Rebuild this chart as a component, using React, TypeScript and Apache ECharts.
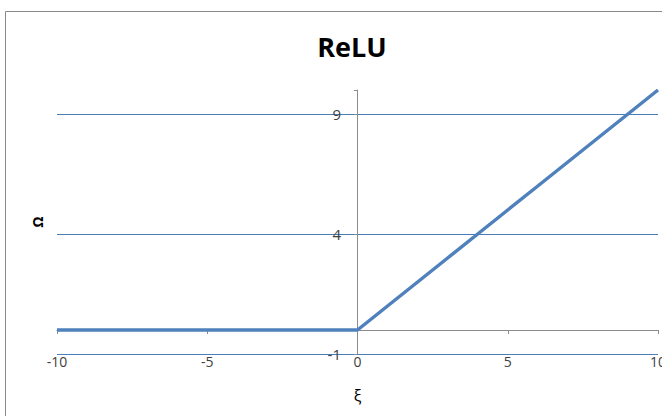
import React, { useEffect, useRef } from "react";
import * as echarts from "echarts";

const xValues = [-10, -9, -8, -7, -6, -5, -4, -3, -2, -1, 0, 1, 2, 3, 4, 5, 6, 7, 8, 9, 10];
const yValues = [0, 0, 0, 0, 0, 0, 0, 0, 0, 0, 0, 1, 2, 3, 4, 5, 6, 7, 8, 9, 10];
const titleText = "ReLU";
const xName = "ξ";
const yName = "Ω";

const FONT = "'Open Sans', 'Noto Sans', sans-serif";

export default function App() {
  const ref = useRef<HTMLDivElement>(null);
  useEffect(() => {
    if (!ref.current) return;
    const chart = echarts.init(ref.current, null, { renderer: "svg" });
    chart.setOption({
      animation: false,
      backgroundColor: "#ffffff",
      title: {
        text: titleText,
        left: 347,
        top: 28,
        textAlign: "center",
        textStyle: { fontFamily: FONT, fontSize: 27, fontWeight: "bold", color: "#000" },
      },
      graphic: [
        {
          type: "rect",
          shape: { x: 5.5, y: 11.5, width: 700, height: 440 },
          style: { fill: "none", stroke: "#8a8a8a", lineWidth: 1 },
          silent: true,
        },
      ],
      grid: { left: 57, right: 4, top: 90, bottom: 62, containLabel: false, outerBoundsMode: "none" },
      xAxis: {
        type: "value",
        min: -10,
        max: 10,
        interval: 5,
        name: xName,
        nameLocation: "middle",
        nameGap: 34,
        nameTextStyle: { fontFamily: FONT, fontSize: 16, color: "#000" },
        axisLine: { onZero: true, lineStyle: { color: "#8c8c8c", width: 1 } },
        axisTick: { show: true, length: 4, lineStyle: { color: "#8c8c8c" } },
        axisLabel: { margin: 0, fontFamily: FONT, fontSize: 14, color: "#404040" },
        splitLine: { show: false },
      },
      yAxis: {
        type: "value",
        min: -1,
        max: 10,
        interval: 5,
        offset: -300,
        name: yName,
        nameLocation: "middle",
        nameGap: 313,
        nameRotate: 90,
        nameTextStyle: { fontFamily: FONT, fontSize: 14, fontWeight: "bold", color: "#000" },
        axisLine: { onZero: false, lineStyle: { color: "#8c8c8c", width: 1 } },
        axisTick: { show: true, length: 3, lineStyle: { color: "#8c8c8c" } },
        axisLabel: {
          margin: 16,
          fontFamily: FONT,
          fontSize: 15,
          color: "#404040",
          formatter: (v: number) => (v === 10 ? "" : String(v)),
        },
        splitLine: {
          show: true,
          lineStyle: { color: ["#4a7ebb", "#4a7ebb", "#4a7ebb", "rgba(0,0,0,0)"], width: 1 },
        },
      },
      series: [
        {
          type: "line",
          data: xValues.map((x, i) => [x, yValues[i]]),
          showSymbol: false,
          symbol: "none",
          lineStyle: { color: "#4f81bd", width: 3.5 },
          z: 5,
        },
      ],
    });
    return () => chart.dispose();
  }, []);
  return (
    <div
      ref={ref}
      style={{ position: "fixed", left: 0, top: 0, width: 662, height: 416 }}
    />
  );
}
